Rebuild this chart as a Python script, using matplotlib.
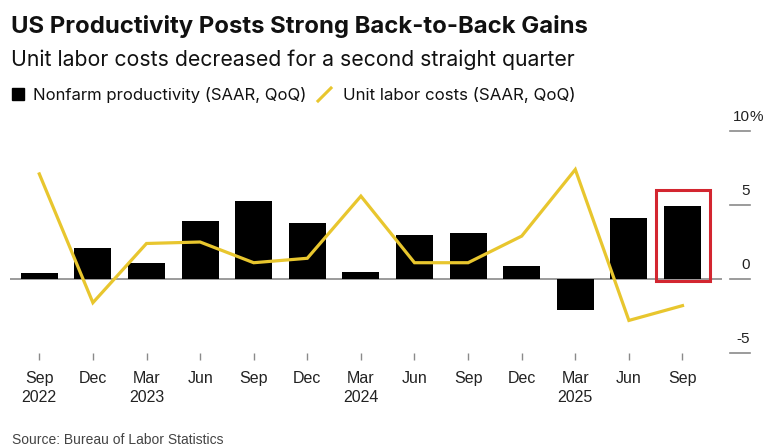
import numpy as np
import matplotlib
matplotlib.use("Agg")
import matplotlib.pyplot as plt
from matplotlib.patches import Rectangle
from matplotlib.lines import Line2D
import matplotlib.transforms as mtransforms

plt.rcParams['font.family'] = ['Liberation Sans', 'DejaVu Sans']
HEAD_FONT = ['Inter', 'Liberation Sans', 'DejaVu Sans']

# quarterly data, Q3 2022 .. Q3 2025
quarters = ["Sep\n2022", "Dec", "Mar\n2023", "Jun", "Sep", "Dec", "Mar\n2024",
            "Jun", "Sep", "Dec", "Mar\n2025", "Jun", "Sep"]
productivity = [0.4, 2.1, 1.1, 3.9, 5.3, 3.8, 0.5, 3.0, 3.1, 0.9, -2.1, 4.1, 4.9]
unit_labor = [7.1, -1.6, 2.4, 2.5, 1.1, 1.4, 5.6, 1.1, 1.1, 2.9, 7.4, -2.8, -1.8]
yticks = [-5, 0, 5, 10]

W, H = 766, 448
BLACK = "#000000"
YELLOW = "#e8c62e"
RED = "#d32630"
GRAY = "#8a8a8a"

fig = plt.figure(figsize=(W / 100, H / 100), dpi=100)
fig.patch.set_facecolor("white")

# axes placed in pixel terms
ax_l, ax_r, ax_t, ax_b = 10, 722, 110, 353
ax = fig.add_axes([ax_l / W, 1 - ax_b / H, (ax_r - ax_l) / W, (ax_b - ax_t) / H])

x = np.arange(len(quarters))
zero_px, px_per_unit = 279, 14.8
ax.set_ylim((zero_px - ax_b) / px_per_unit, (zero_px - ax_t) / px_per_unit)
x0_px, step_px = 39.3, 53.6
ax.set_xlim((ax_l - x0_px) / step_px, (ax_r - x0_px) / step_px)

ax.axhline(0, color=GRAY, lw=1.2, zorder=1)
ax.bar(x, productivity, width=0.69, color=BLACK, zorder=2)
ax.plot(x, unit_labor, color=YELLOW, lw=2.3, zorder=3, solid_joinstyle="miter")

# highlight the latest quarter
last = len(x) - 1
ax.add_patch(Rectangle((last - 0.49, -0.14), 1.01, 6.14, fill=False,
                       edgecolor=RED, lw=2.2, zorder=4, clip_on=False))

for s in ax.spines.values():
    s.set_visible(False)
ax.set_yticks([])
ax.set_xticks(x)
ax.set_xticklabels(quarters, fontsize=11.5, color="#222222", linespacing=1.35)
ax.tick_params(axis="x", length=5, width=1, color=GRAY, pad=8)

# right-hand value axis: short dashes with labels sitting above them
tr = mtransforms.blended_transform_factory(ax.transAxes, ax.transData)
xa = (730 - ax_l) / (ax_r - ax_l)
xb = (750 - ax_l) / (ax_r - ax_l)
for v in yticks:
    ax.add_line(Line2D([xa, xb], [v, v], transform=tr, color=GRAY, lw=1.2, clip_on=False))
    ax.annotate(str(v), xy=(xb, v), xycoords=tr, xytext=(0, 5), textcoords="offset points",
                ha="right", va="bottom", fontsize=11, color="#222222", annotation_clip=False)
    if v == yticks[-1]:
        ax.annotate("%", xy=(xb, v), xycoords=tr, xytext=(0, 5), textcoords="offset points",
                    ha="left", va="bottom", fontsize=11, color="#222222", annotation_clip=False)

# titles
fig.text(11 / W, 1 - 26 / H, "US Productivity Posts Strong Back-to-Back Gains",
         fontsize=17.2, fontweight="bold", va="center", ha="left", color="#111111",
         family=HEAD_FONT)
fig.text(11 / W, 1 - 60 / H, "Unit labor costs decreased for a second straight quarter",
         fontsize=15.3, va="center", ha="left", color="#111111", family=HEAD_FONT)

# legend
fig.patches.append(Rectangle((12 / W, 1 - 100 / H), 12 / W, 12 / H, transform=fig.transFigure,
                             color=BLACK, figure=fig))
fig.text(33 / W, 1 - 95 / H, "Nonfarm productivity (SAAR, QoQ)", fontsize=12,
         va="center", ha="left", color="#111111", family=HEAD_FONT)
fig.lines.append(Line2D([318 / W, 331 / W], [1 - 101 / H, 1 - 88 / H], transform=fig.transFigure,
                        color=YELLOW, lw=2.2, figure=fig))
fig.text(343 / W, 1 - 95 / H, "Unit labor costs (SAAR, QoQ)", fontsize=12.2,
         va="center", ha="left", color="#111111", family=HEAD_FONT)

fig.text(12 / W, 1 - 440 / H, "Source: Bureau of Labor Statistics", fontsize=10,
         va="center", ha="left", color="#444444")

fig.savefig("out.png", dpi=100)
